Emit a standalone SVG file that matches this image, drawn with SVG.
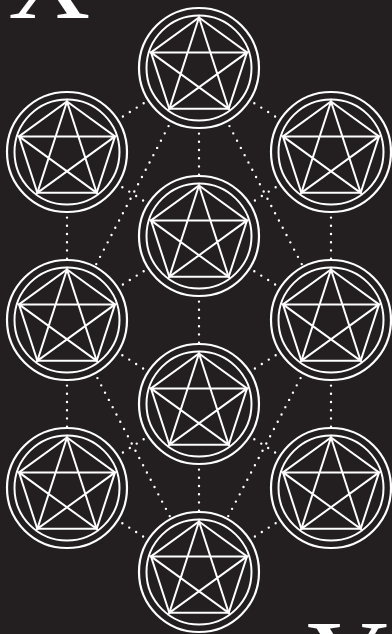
<svg xmlns="http://www.w3.org/2000/svg" xmlns:xlink="http://www.w3.org/1999/xlink" width="392" height="634" viewBox="0 0 392 634">
  <style>
    .bg { fill: #231f20; }
    .ring { fill: #231f20; stroke: #ffffff; stroke-width: 2.2; }
    .line { fill: none; stroke: #ffffff; stroke-width: 2; stroke-linejoin: miter; }
    .dots line { stroke: #ffffff; stroke-width: 2.4; stroke-linecap: round; stroke-dasharray: 0 8.2; }
    .letter { fill: #ffffff; font-family: "Liberation Serif", "Times New Roman", serif; font-size: 114px; }
  </style>
  <defs>
    <g id="emblem">
      <circle class="ring" r="60"/>
      <circle class="line" r="52.5"/>
      <polygon class="line" points="0,-50.5 48.03,-15.61 29.68,40.86 -29.68,40.86 -48.03,-15.61"/>
      <polygon class="line" points="0,-50.5 29.68,40.86 -48.03,-15.61 48.03,-15.61 -29.68,40.86"/>
    </g>
  </defs>
  <rect class="bg" x="0" y="0" width="392" height="634"/>
  <text class="letter" x="8" y="18">X</text>
  <text class="letter" x="307" y="699">Y</text>
  <g id="connectors" class="dots">
    <line x1="199" y1="68" x2="67" y2="152"/>
    <line x1="199" y1="68" x2="331" y2="152"/>
    <line x1="199" y1="68" x2="199" y2="236"/>
    <line x1="199" y1="68" x2="67" y2="320"/>
    <line x1="199" y1="68" x2="331" y2="320"/>
    <line x1="67" y1="152" x2="199" y2="236"/>
    <line x1="331" y1="152" x2="199" y2="236"/>
    <line x1="67" y1="152" x2="67" y2="320"/>
    <line x1="331" y1="152" x2="331" y2="320"/>
    <line x1="199" y1="236" x2="67" y2="320"/>
    <line x1="199" y1="236" x2="331" y2="320"/>
    <line x1="199" y1="236" x2="199" y2="404"/>
    <line x1="67" y1="320" x2="199" y2="404"/>
    <line x1="331" y1="320" x2="199" y2="404"/>
    <line x1="67" y1="320" x2="67" y2="488"/>
    <line x1="331" y1="320" x2="331" y2="488"/>
    <line x1="67" y1="320" x2="199" y2="572"/>
    <line x1="331" y1="320" x2="199" y2="572"/>
    <line x1="199" y1="404" x2="67" y2="488"/>
    <line x1="199" y1="404" x2="331" y2="488"/>
    <line x1="199" y1="404" x2="199" y2="572"/>
    <line x1="67" y1="488" x2="199" y2="572"/>
    <line x1="331" y1="488" x2="199" y2="572"/>
  </g>
  <g id="node-top"><use xlink:href="#emblem" href="#emblem" x="199" y="68"/></g>
  <g id="node-upper-left"><use xlink:href="#emblem" href="#emblem" x="67" y="152"/></g>
  <g id="node-upper-right"><use xlink:href="#emblem" href="#emblem" x="331" y="152"/></g>
  <g id="node-upper-middle"><use xlink:href="#emblem" href="#emblem" x="199" y="236"/></g>
  <g id="node-middle-left"><use xlink:href="#emblem" href="#emblem" x="67" y="320"/></g>
  <g id="node-middle-right"><use xlink:href="#emblem" href="#emblem" x="331" y="320"/></g>
  <g id="node-lower-middle"><use xlink:href="#emblem" href="#emblem" x="199" y="404"/></g>
  <g id="node-lower-left"><use xlink:href="#emblem" href="#emblem" x="67" y="488"/></g>
  <g id="node-lower-right"><use xlink:href="#emblem" href="#emblem" x="331" y="488"/></g>
  <g id="node-bottom"><use xlink:href="#emblem" href="#emblem" x="199" y="572"/></g>
</svg>
